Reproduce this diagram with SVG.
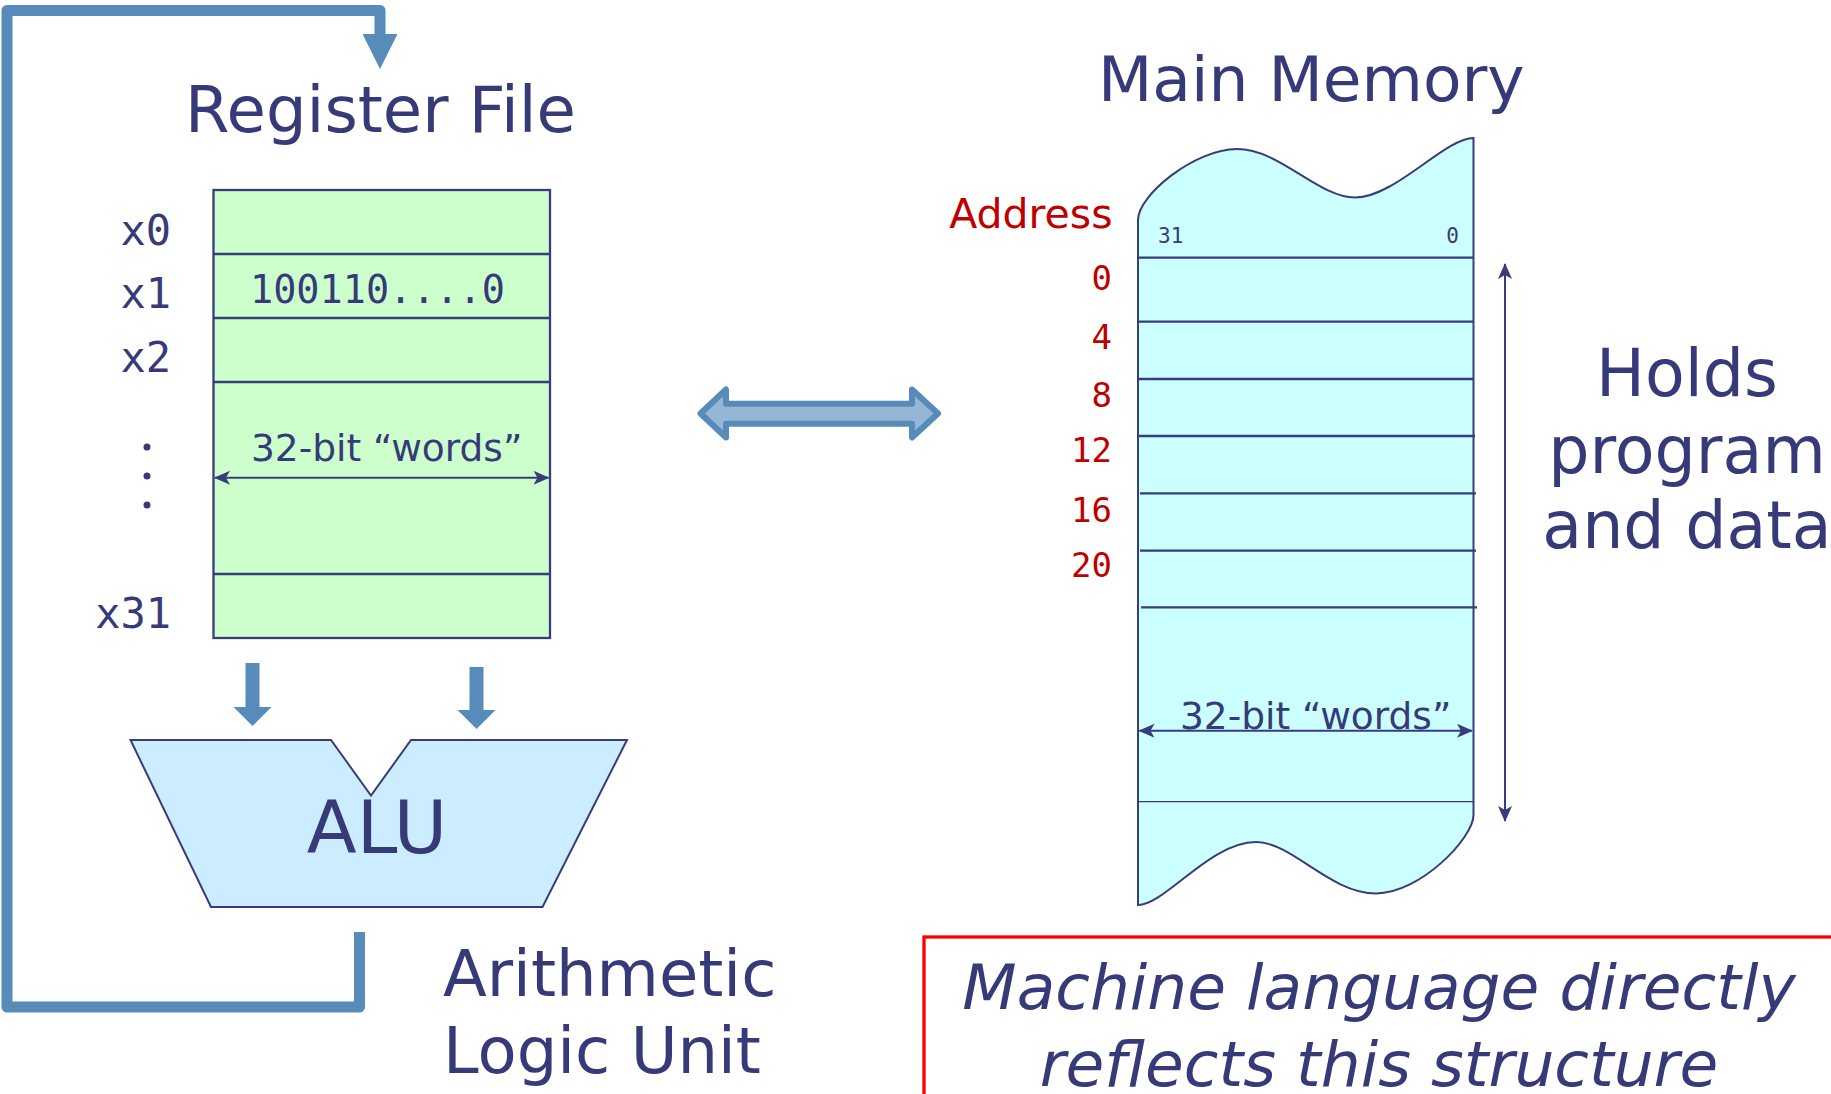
<svg xmlns="http://www.w3.org/2000/svg" width="1831" height="1094" viewBox="0 0 1831 1094">
<defs>
<style>
.t{font-family:"DejaVu Sans",Verdana,sans-serif;fill:#373A79}
.m{font-family:"DejaVu Sans Mono","Liberation Mono",monospace;fill:#373A79}
.r{fill:#C00000}
.ln{stroke:#393C7B;stroke-width:2.3;fill:none}
.thin{stroke:#393C7B;stroke-width:2;fill:none}
.blue{stroke:#568BBA;fill:none;stroke-width:11}
</style>
<marker id="ah" viewBox="0 0 16 16" refX="15" refY="8" markerWidth="16" markerHeight="16" markerUnits="userSpaceOnUse" orient="auto-start-reverse">
<path d="M0,1 L16,8 L0,15 L4,8 Z" fill="#393C7B"/>
</marker>
</defs>
<rect width="1831" height="1094" fill="#FFFFFF"/>

<g id="connectors">
<polyline class="blue" points="359.5,932 359.5,1007 7,1007 7,10.5 380,10.5 380,36" stroke-linejoin="round"/>
<polygon points="362.5,34 397.5,34 380,69" fill="#568BBA"/>
<path d="M700.5,413.5 L726,389.5 L726,403.7 L912,403.7 L912,389.5 L938,413.5 L912,437.5 L912,423.7 L726,423.7 L726,437.5 Z" fill="#95B6D5" stroke="#568BBA" stroke-width="6" stroke-linejoin="round"/>
<path d="M245.5,663 h14 v44 h12 l-19,19 l-19,-19 h12 Z" fill="#568BBA"/>
<path d="M469.5,667 h14 v43 h12 l-19,19 l-19,-19 h12 Z" fill="#568BBA"/>
<line class="thin" x1="1505" y1="821" x2="1505" y2="264" marker-end="url(#ah)" marker-start="url(#ah)"/>
</g>

<g id="register-file">
<text class="t" x="185" y="131.5" font-size="64">Register File</text>
<rect x="213.5" y="190" width="336.5" height="448" fill="#CCFFCC" stroke="#393C7B" stroke-width="2.3"/>
<line class="ln" x1="213.5" y1="254" x2="550" y2="254"/>
<line class="ln" x1="213.5" y1="318" x2="550" y2="318"/>
<line class="ln" x1="213.5" y1="382" x2="550" y2="382"/>
<line class="ln" x1="213.5" y1="574" x2="550" y2="574"/>
<text class="m" x="171" y="245" font-size="42" text-anchor="end">x0</text>
<text class="m" x="171" y="308" font-size="42" text-anchor="end">x1</text>
<text class="m" x="171" y="372" font-size="42" text-anchor="end">x2</text>
<text class="m" x="171" y="628" font-size="42" text-anchor="end">x31</text>
<circle cx="147" cy="447" r="3.5" fill="#373A79"/>
<circle cx="147" cy="476" r="3.5" fill="#373A79"/>
<circle cx="147" cy="505" r="3.5" fill="#373A79"/>
<text class="m" x="250" y="303" font-size="38.5">100110....0</text>
<text class="t" x="251" y="460.5" font-size="37.5">32-bit “words”</text>
<line class="thin" x1="215" y1="477.7" x2="548.5" y2="477.7" marker-end="url(#ah)" marker-start="url(#ah)"/>
</g>

<g id="alu">
<polygon points="130.5,740 331,740 371,795.5 411,740 627,740 542.5,907 211,907" fill="#CCECFF" stroke="#393C7B" stroke-width="2"/>
<text class="t" x="377" y="853" font-size="73" text-anchor="middle">ALU</text>
<text class="t" x="443" y="996" font-size="64">Arithmetic</text>
<text class="t" x="443" y="1072.5" font-size="64">Logic Unit</text>
</g>

<g id="main-memory">
<text class="t" x="1098" y="101" font-size="63">Main Memory</text>
<path d="M1138,905 L1138,220 C1138,195 1195,149 1237,149 C1280,149 1318,197.5 1355,197.5 C1395,197.5 1445,138 1473.5,138 L1473.5,815 C1473.5,838 1420,893.5 1376,893.5 C1330,893.5 1292,842 1256,842 C1210,842 1165,905 1138,905 Z" fill="#CCFFFF" stroke="#393C7B" stroke-width="2"/>
<line class="ln" x1="1138" y1="257.7" x2="1473.5" y2="257.7"/>
<line class="ln" x1="1138" y1="321.7" x2="1473.5" y2="321.7"/>
<line class="ln" x1="1138" y1="379" x2="1474" y2="379"/>
<line class="ln" x1="1139" y1="436" x2="1475" y2="436"/>
<line class="ln" x1="1140" y1="493.3" x2="1476" y2="493.3"/>
<line class="ln" x1="1140" y1="550.7" x2="1476" y2="550.7"/>
<line class="ln" x1="1141" y1="607.3" x2="1477" y2="607.3"/>
<line x1="1138" y1="801.7" x2="1473.5" y2="801.7" stroke="#393C7B" stroke-width="1.2"/>
<text class="m" x="1158" y="243" font-size="21">31</text>
<text class="m" x="1459" y="243" font-size="21" text-anchor="end">0</text>
<text class="t r" x="1112.5" y="228" font-size="41" text-anchor="end">Address</text>
<text class="m r" x="1112" y="290" font-size="34" text-anchor="end">0</text>
<text class="m r" x="1112" y="349" font-size="34" text-anchor="end">4</text>
<text class="m r" x="1112" y="406.5" font-size="34" text-anchor="end">8</text>
<text class="m r" x="1112" y="461.5" font-size="34" text-anchor="end">12</text>
<text class="m r" x="1112" y="521.5" font-size="34" text-anchor="end">16</text>
<text class="m r" x="1112" y="577" font-size="34" text-anchor="end">20</text>
<text class="t" x="1180" y="728.5" font-size="37.5">32-bit “words”</text>
<line class="thin" x1="1139.5" y1="730.7" x2="1472" y2="730.7" marker-end="url(#ah)" marker-start="url(#ah)"/>
</g>

<g id="holds-label">
<text class="t" x="1687" y="396" font-size="65" text-anchor="middle">Holds</text>
<text class="t" x="1687" y="473" font-size="65" text-anchor="middle">program</text>
<text class="t" x="1687" y="548" font-size="65" text-anchor="middle">and data</text>
</g>

<g id="caption">
<rect x="924" y="937" width="940" height="200" fill="none" stroke="#FF0000" stroke-width="3.3"/>
<text class="t" x="1379" y="1009" font-size="63" font-style="italic" text-anchor="middle">Machine language directly</text>
<text class="t" x="1379" y="1086" font-size="63" font-style="italic" text-anchor="middle">reflects this structure</text>
</g>
</svg>
